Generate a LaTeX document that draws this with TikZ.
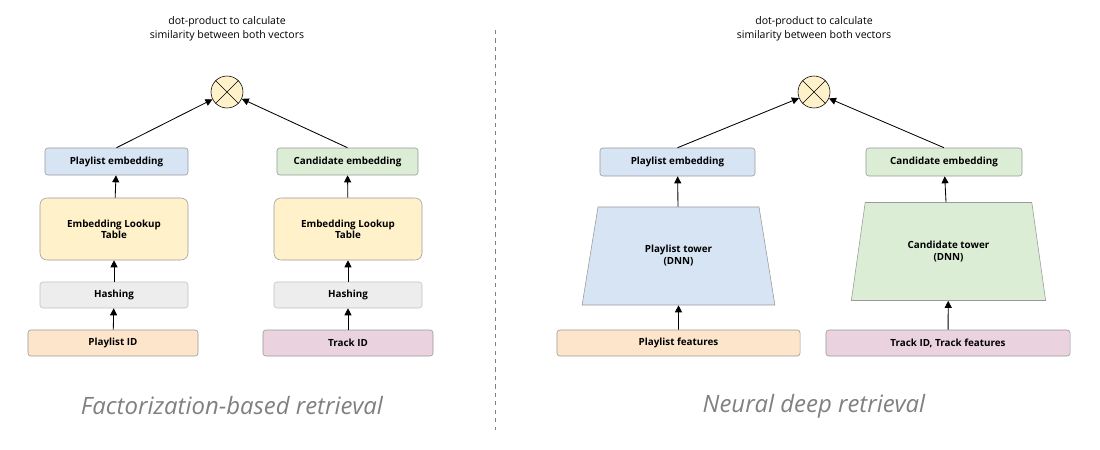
\documentclass[tikz,border=0pt]{standalone}
\usepackage{fontspec}
\setmainfont{Open Sans}
\usetikzlibrary{shapes.geometric,arrows.meta}
\definecolor{bblue}{HTML}{D6E4F4}
\definecolor{bgreen}{HTML}{DCEDD6}
\definecolor{byellow}{HTML}{FFF1C9}
\definecolor{bgray}{HTML}{EDEDED}
\definecolor{borange}{HTML}{FDE5CC}
\definecolor{bpink}{HTML}{EAD3DF}
\definecolor{bline}{HTML}{9A9A9A}
\begin{document}
\begin{tikzpicture}[x=0.025cm,y=-0.025cm,
      box/.style ={draw=bline, rounded corners=2pt, font=\fontsize{7}{8}\selectfont\bfseries, align=center, inner sep=0pt},
      tower/.style ={trapezium, trapezium stretches=true, trapezium angle=76, draw=bline, font=\fontsize{7}{8.5}\selectfont\bfseries, align=center, minimum height=2.45cm},
      dot/.style ={circle, draw, fill=byellow, minimum size=0.8cm, inner sep=0pt},
      note/.style ={font=\fontsize{7.5}{10}\selectfont, align=center},
      title/.style ={font=\fontsize{17}{20}\selectfont\itshape, text=gray},
      arr/.style ={-{Triangle[length=5pt,width=5pt]}, semithick}]
   \useasboundingbox (0,0) rectangle (1100,449);

   % left: factorization
   \node[note] (ln) at (227,29) {dot-product to calculate\\similarity between both vectors};
   \node[dot] (lx) at (227,92) {};
   \draw (lx.45) -- (lx.225) (lx.135) -- (lx.315);
   \node[box, fill=bblue, minimum width=3.575cm, minimum height=0.675cm] (lpe) at (116.5,161.5) {Playlist embedding};
   \node[box, fill=bgreen, minimum width=3.525cm, minimum height=0.675cm] (lce) at (347.5,161.5) {Candidate embedding};
   \node[box, fill=byellow, rounded corners=5pt, minimum width=3.7cm, minimum height=1.55cm] (llt) at (114,229) {Embedding Lookup\\Table};
   \node[box, fill=byellow, rounded corners=5pt, minimum width=3.7cm, minimum height=1.55cm] (rlt) at (348,229) {Embedding Lookup\\Table};
   \node[box, fill=bgray, draw=bline!60, minimum width=3.7cm, minimum height=0.65cm] (lh) at (114,295) {Hashing};
   \node[box, fill=bgray, draw=bline!60, minimum width=3.7cm, minimum height=0.65cm] (rh) at (348,295) {Hashing};
   \node[box, fill=borange, minimum width=4.25cm, minimum height=0.65cm] (lid) at (113,343) {Playlist ID};
   \node[box, fill=bpink, minimum width=4.25cm, minimum height=0.65cm] (tid) at (348,343) {Track ID};
   \node[title] (lt) at (232,406) {Factorization-based retrieval};
   \draw[arr] (lid) -- (lh);
   \draw[arr] (tid) -- (rh);
   \draw[arr] (lh) -- (llt);
   \draw[arr] (rh) -- (rlt);
   \draw[arr] (llt) -- (lpe);
   \draw[arr] (rlt) -- (lce);
   \draw[arr] (lpe.north) -- (lx);
   \draw[arr] (lce.north) -- (lx);

   \coordinate (dt) at (495,30);
   \coordinate (db) at (495,430);
   \draw[dashed, gray] (dt) -- (db);

   % right: neural
   \node[note] (rn) at (814,29) {dot-product to calculate\\similarity between both vectors};
   \node[dot] (rx) at (814,92) {};
   \draw (rx.45) -- (rx.225) (rx.135) -- (rx.315);
   \node[box, fill=bblue, minimum width=3.875cm, minimum height=0.7cm] (rpe) at (677.5,162) {Playlist embedding};
   \node[box, fill=bgreen, minimum width=3.9cm, minimum height=0.7cm] (rce) at (944,162) {Candidate embedding};
   \node[tower, fill=bblue, minimum width=4.825cm] (pt) at (678.5,256) {Playlist tower\\(DNN)};
   \node[tower, fill=bgreen, minimum width=4.875cm] (ct) at (948.5,251.5) {Candidate tower\\(DNN)};
   \node[box, fill=borange, minimum width=6.075cm, minimum height=0.65cm] (pf) at (678.5,343) {Playlist features};
   \node[box, fill=bpink, minimum width=6.1cm, minimum height=0.65cm] (tf) at (948,343) {Track ID, Track features};
   \node[title] (rt) at (814,406) {Neural deep retrieval};
   \draw[arr] (pf) -- (pt);
   \draw[arr] (tf) -- (ct);
   \draw[arr] (pt) -- (rpe);
   \draw[arr] (ct) -- (rce);
   \draw[arr] (rpe.north) -- (rx);
   \draw[arr] (rce.north) -- (rx);
\end{tikzpicture}
\end{document}
